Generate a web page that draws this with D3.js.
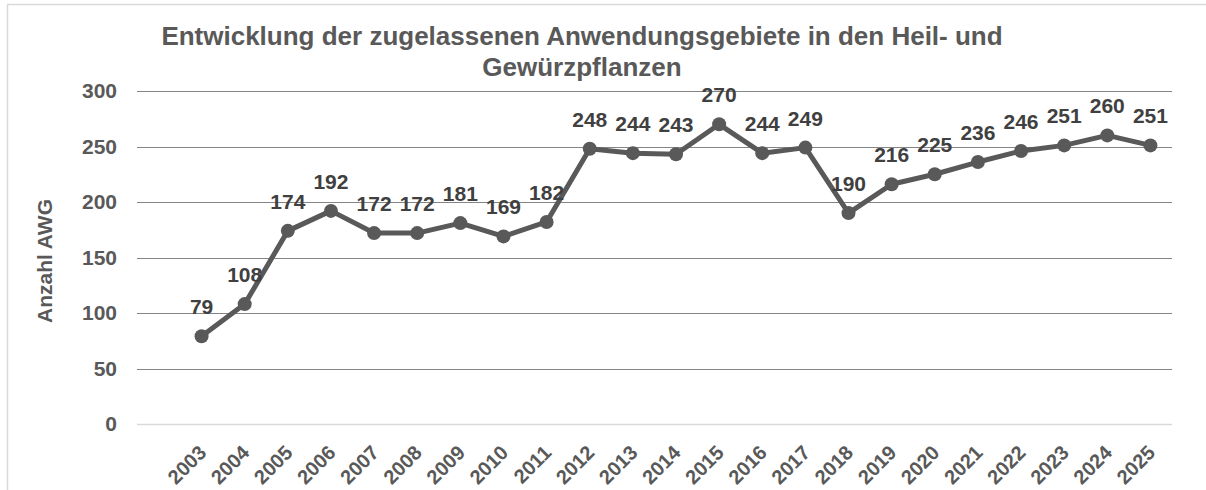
<!DOCTYPE html>
<html>
<head>
<meta charset="utf-8">
<script src="https://cdn.jsdelivr.net/npm/d3@7"></script>
<style>
  body { margin: 0; background: #fff; }
  text { font-family: "Liberation Sans", Arial, sans-serif; font-weight: bold; }
</style>
</head>
<body>
<svg id="chart" width="1206" height="490"></svg>
<script>
var years = ['2003', '2004', '2005', '2006', '2007', '2008', '2009', '2010', '2011', '2012', '2013', '2014',
  '2015', '2016', '2017', '2018', '2019', '2020', '2021', '2022', '2023', '2024', '2025'];
var awgCounts = [79, 108, 174, 192, 172, 172, 181, 169, 182, 248, 244, 243,
  270, 244, 249, 190, 216, 225, 236, 246, 251, 260, 251];
var yTicks = [0, 50, 100, 150, 200, 250, 300];
var titleLines = ['Entwicklung der zugelassenen Anwendungsgebiete in den Heil- und', 'Gewürzpflanzen'];
var yAxisTitle = 'Anzahl AWG';

var svg = d3.select('#chart');
var gridLeft = 137, plotRight = 1172;

// chart frame
svg.append('rect')
  .attr('x', 7.5).attr('y', 4.5)
  .attr('width', 1400).attr('height', 700)
  .attr('fill', 'none')
  .attr('stroke', '#d9d9d9')
  .attr('stroke-width', 1.5);

var xScale = d3.scaleBand().domain(years).range([180, plotRight]);
var yScale = d3.scaleLinear().domain([0, 300]).range([424, 91]);
var cx = (d) => xScale(d) + xScale.bandwidth() / 2;

// gridlines
svg.append('g').selectAll('line')
  .data(yTicks)
  .enter().append('line')
  .attr('x1', gridLeft).attr('x2', plotRight)
  .attr('y1', (d) => Math.round(yScale(d)) + 0.5)
  .attr('y2', (d) => Math.round(yScale(d)) + 0.5)
  .attr('stroke', (d) => d === 0 ? '#d9d9d9' : '#858585')
  .attr('stroke-width', (d) => d === 0 ? 1.5 : 1);

// y tick labels
var yAxis = d3.axisLeft(yScale).tickValues(yTicks).tickSize(0).tickPadding(0);
var yAxisG = svg.append('g')
  .attr('transform', 'translate(117,0)')
  .call(yAxis);
yAxisG.select('.domain').remove();
yAxisG.selectAll('text')
  .attr('fill', '#595959')
  .style('font-size', '21px')
  .style('font-family', '"Liberation Sans", Arial, sans-serif')
  .style('font-weight', 'bold');

// x tick labels
var xAxis = d3.axisBottom(xScale).tickSize(0).tickPadding(0);
var xAxisG = svg.append('g')
  .attr('transform', 'translate(0,424)')
  .call(xAxis);
xAxisG.select('.domain').remove();
xAxisG.selectAll('text')
  .attr('fill', '#595959')
  .attr('text-anchor', 'end')
  .attr('dy', '0.35em')
  .attr('transform', 'translate(1,25) rotate(-45)')
  .style('font-size', '20px')
  .style('font-family', '"Liberation Sans", Arial, sans-serif')
  .style('font-weight', 'bold');

// title
svg.append('text')
  .attr('text-anchor', 'middle')
  .attr('fill', '#595959')
  .style('font-size', '26px')
  .selectAll('tspan')
  .data(titleLines)
  .enter().append('tspan')
  .attr('x', 582)
  .attr('y', (d, i) => 45 + i * 31)
  .text((d) => d);

// y axis title
svg.append('text')
  .attr('transform', 'translate(52,261) rotate(-90)')
  .attr('text-anchor', 'middle')
  .attr('fill', '#595959')
  .style('font-size', '21px')
  .text(yAxisTitle);

var series = years.map((y, i) => ({year: y, value: awgCounts[i]}));

// line
var line = d3.line()
  .x((d) => cx(d.year))
  .y((d) => yScale(d.value));

svg.append('path')
  .datum(series)
  .attr('d', line)
  .attr('fill', 'none')
  .attr('stroke', '#595959')
  .attr('stroke-width', 5)
  .attr('stroke-linejoin', 'round');

// markers
svg.append('g').selectAll('circle')
  .data(series)
  .enter().append('circle')
  .attr('cx', (d) => cx(d.year))
  .attr('cy', (d) => yScale(d.value))
  .attr('r', 7)
  .attr('fill', '#595959');

// data labels
svg.append('g').selectAll('text')
  .data(series)
  .enter().append('text')
  .attr('x', (d) => cx(d.year))
  .attr('y', (d) => yScale(d.value) - 22)
  .attr('text-anchor', 'middle')
  .attr('fill', '#404040')
  .style('font-size', '21px')
  .text((d) => d.value);
</script>
</body>
</html>
